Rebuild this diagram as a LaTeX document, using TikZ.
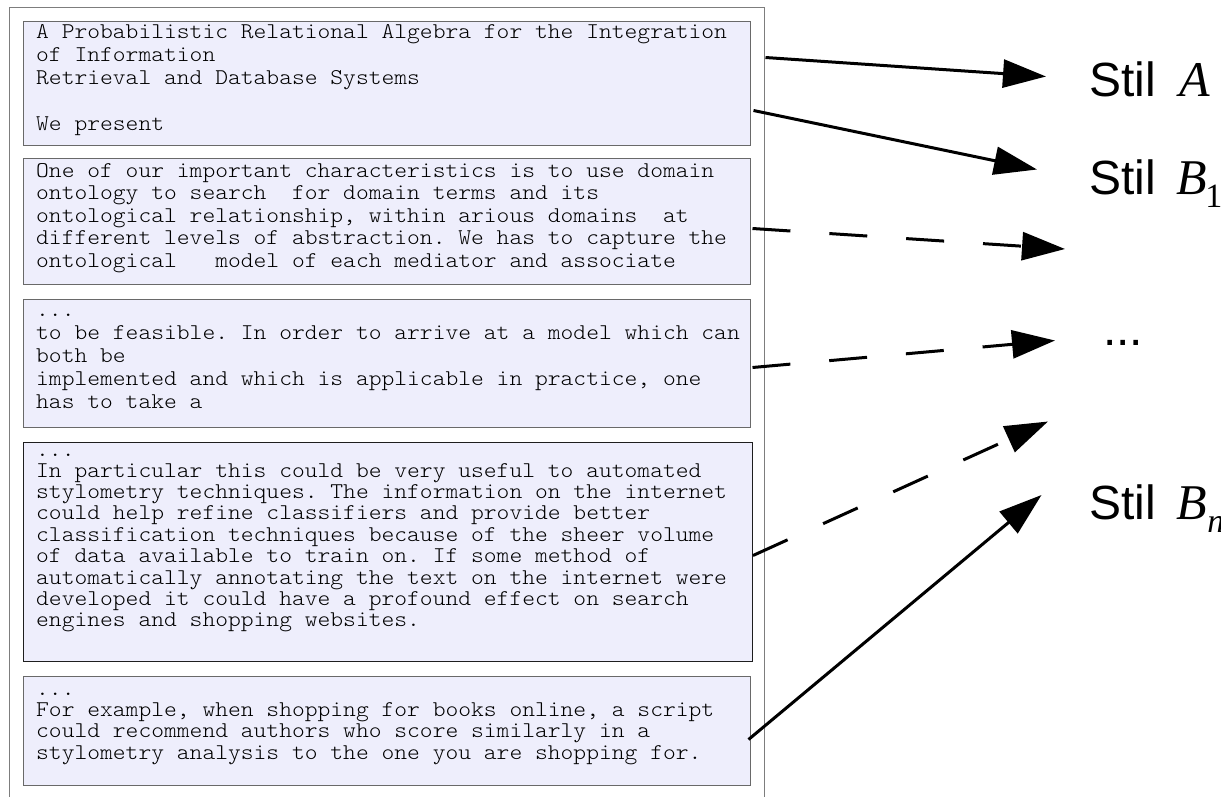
\documentclass[tikz,border=0pt]{standalone}
\usepackage{fontspec}
\setmainfont{Liberation Sans}
\newfontfamily\monofam{lmmonolt10-regular.otf}[FakeStretch=1.083]
\newfontfamily\seriffam{Liberation Serif}
\usetikzlibrary{arrows.meta}
\definecolor{boxfill}{RGB}{238,238,252}
\definecolor{boxline}{RGB}{105,105,105}
\definecolor{boxdark}{RGB}{30,30,30}
\definecolor{frameline}{RGB}{125,125,125}
\definecolor{txtcol}{RGB}{0,0,0}
\newcommand{\mylines}[2]{\parbox[t]{730pt}{\fontsize{22.5}{#1}\selectfont\raggedright\frenchspacing #2}}
\newcommand{\stilvar}[1]{{\seriffam\itshape\fontsize{50}{52}\selectfont #1}}
\newcommand{\subtxt}[1]{\raisebox{-13pt}{\seriffam\fontsize{34}{36}\selectfont #1}}
\begin{document}
\begin{tikzpicture}[x=1pt,y=-1pt,
  framebox/.style={draw=frameline, line width=1pt, anchor=north west, inner sep=0pt},
  box/.style={draw=boxline, fill=boxfill, line width=1pt, anchor=north west, inner sep=0pt},
  txt/.style={anchor=base west, inner sep=0pt, text=txtcol, font=\monofam},
  lbl/.style={anchor=base west, inner sep=0pt, font=\fontsize{48}{52}\selectfont},
  conn/.style={line width=3pt, -{Triangle[length=43pt,width=28pt]}},
  dsh/.style={conn, dash pattern=on 38pt off 39pt}]
\useasboundingbox[fill=white] (0,0) rectangle (1221,796);

\node[framebox, minimum width=755pt, minimum height=830pt] (frame) at (9,7) {};

\node[box, minimum width=727pt, minimum height=124pt] (b1) at (23,21) {};
\node[box, minimum width=727pt, minimum height=126pt] (b2) at (23,158) {};
\node[box, minimum width=727pt, minimum height=128pt] (b3) at (23,299) {};
\node[box, draw=boxdark, minimum width=729pt, minimum height=219pt] (b4) at (23,442) {};
\node[box, minimum width=727pt, minimum height=109pt] (b5) at (23,676) {};

\node[txt] (t1) at (36,38.5) {\mylines{23pt}{A Probabilistic Relational Algebra for the Integration\\
of Information\\
Retrieval and Database Systems\\
\mbox{}\\
We present}};

\node[txt] (t2) at (36,177) {\mylines{22.5pt}{One of our important characteristics is to use domain\\
ontology to search~ for domain terms and its\\
ontological relationship, within arious domains~ at\\
different levels of abstraction. We has to capture the\\
ontological~~ model of each mediator and associate}};

\node[txt] (t3) at (36,316.5) {\mylines{23pt}{...\\
to be feasible. In order to arrive at a model which can\\
both be\\
implemented and which is applicable in practice, one\\
has to take a}};

\node[txt] (t4) at (36,456) {\mylines{21.4pt}{...\\[-0.4pt]
In particular this could be very useful to automated\\
stylometry techniques. The information on the internet\\
could help refine classifiers and provide better\\
classification techniques because of the sheer volume\\
of data available to train on. If some method of\\
automatically annotating the text on the internet were\\
developed it could have a profound effect on search\\
engines and shopping websites.}};

\node[txt] (t5) at (36,695) {\mylines{21.5pt}{...\\[-0.5pt]
For example, when shopping for books online, a script\\
could recommend authors who score similarly in a\\
stylometry analysis to the one you are shopping for.}};

\node[lbl] (lA) at (1089,96) {Stil\hspace{23.5pt}\stilvar{A}};
\node[lbl] (lB1) at (1089,194) {Stil\hspace{21pt}\stilvar{B}\kern-2pt\subtxt{1}};
\node[lbl] (ldots) at (1103,345) {...};
\node[lbl] (lBn) at (1089,519.5) {Stil\hspace{21pt}\stilvar{B}\kern0pt\subtxt{\itshape n}};

\coordinate (eA) at (1046,76.5);
\coordinate (eB1) at (1037,169.5);
\coordinate (eD1) at (1065,249);
\coordinate (eD2) at (1055,340.5);
\coordinate (eD3) at (1048,421.5);
\coordinate (eBn) at (1041.5,495);

\draw[conn] ([shift={(14.5,36.5)}]b1.north east) -- (eA);
\draw[conn] ([shift={(2.5,89.5)}]b1.north east) -- (eB1);
\draw[dsh] ([shift={(1.5,70.5)}]b2.north east) -- (eD1);
\draw[dsh] ([shift={(1.5,68.5)}]b3.north east) -- (eD2);
\draw[dsh] ([shift={(0,113.5)}]b4.north east) -- (eD3);
\draw[conn] ([shift={(-2.5,63.5)}]b5.north east) -- (eBn);
\end{tikzpicture}
\end{document}
